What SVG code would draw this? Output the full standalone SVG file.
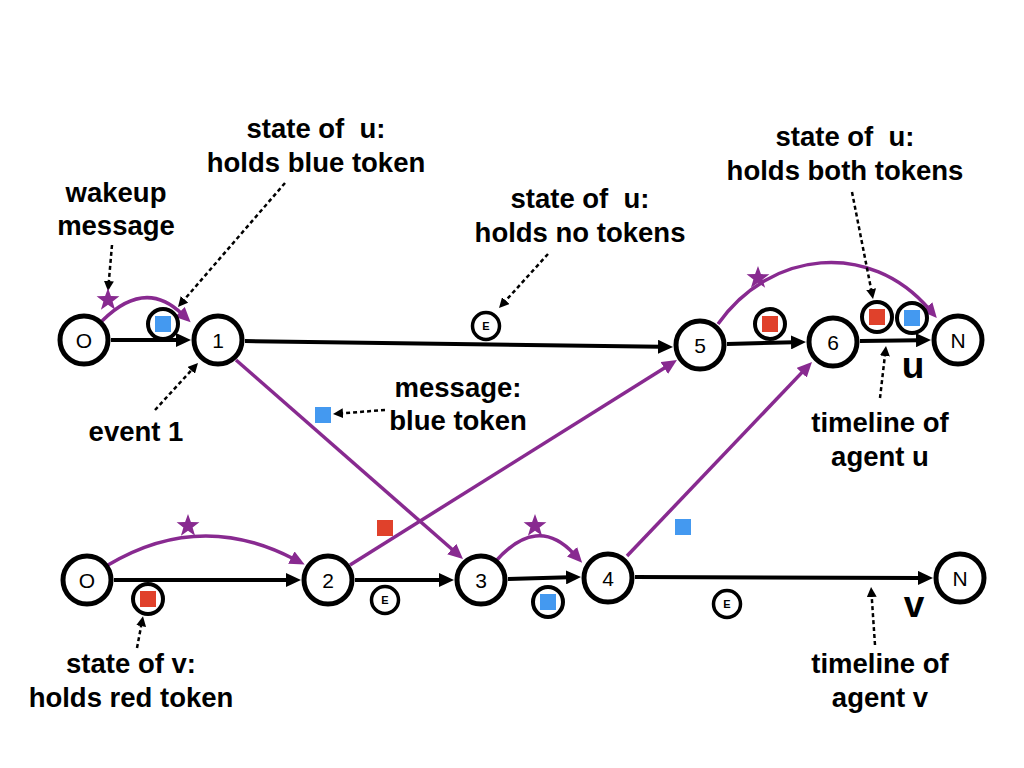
<svg xmlns="http://www.w3.org/2000/svg" width="1024" height="768" viewBox="0 0 1024 768">
<style>
.node{fill:#fff;stroke:#000;stroke-width:5}
.nlabel{font-family:"Liberation Sans",Arial,Helvetica,sans-serif;font-size:21px;text-anchor:middle;fill:#000}
.tok{fill:#fff;stroke:#000;stroke-width:4}
.ecirc{fill:#fff;stroke:#000;stroke-width:3.5}
.elabel{font-family:"Liberation Sans",Arial,Helvetica,sans-serif;font-size:11px;font-weight:bold;text-anchor:middle;fill:#000}
.ann{font-family:"Liberation Sans",Arial,Helvetica,sans-serif;font-size:27.5px;font-weight:bold;text-anchor:middle;fill:#000}
.big{font-family:"Liberation Sans",Arial,Helvetica,sans-serif;font-size:37px;font-weight:bold;text-anchor:middle;fill:#000}
.blk{fill:none;stroke:#000;stroke-width:4;marker-end:url(#ab)}
.pur{fill:none;stroke:#882a90;stroke-width:3.5;marker-end:url(#ap)}
.dot{fill:none;stroke:#000;stroke-width:2.5;stroke-dasharray:4 3;marker-end:url(#ad)}
.blue{fill:#4499f0}
.red{fill:#e0412b}
.star{fill:#882a90}
</style>
<defs>
<marker id="ab" markerUnits="userSpaceOnUse" markerWidth="16" markerHeight="14" refX="3" refY="7" orient="auto"><path d="M0,0 L15,7 L0,14 z" fill="#000"/></marker>
<marker id="ap" markerUnits="userSpaceOnUse" markerWidth="16" markerHeight="14" refX="3" refY="7" orient="auto"><path d="M0,0 L15,7 L0,14 z" fill="#882a90"/></marker>
<marker id="ad" markerUnits="userSpaceOnUse" markerWidth="11" markerHeight="10" refX="2" refY="5" orient="auto"><path d="M0,0 L10,5 L0,10 z" fill="#000"/></marker>
<polygon id="st" points="0,-12 2.9,-3.9 11.4,-3.7 4.6,1.5 7.1,9.7 0,4.8 -7.1,9.7 -4.6,1.5 -11.4,-3.7 -2.9,-3.9"/>
</defs>
<rect width="1024" height="768" fill="#fff"/>

<g id="connectors">
<!-- timeline u -->
<path class="blk" d="M111,340 L179,340"/>
<path class="blk" d="M245,341 L661,346.8"/>
<path class="blk" d="M727,344 L794,342.3"/>
<path class="blk" d="M860,341 L919,340.2"/>
<!-- timeline v -->
<path class="blk" d="M114,580 L289,580"/>
<path class="blk" d="M355,580 L442,580"/>
<path class="blk" d="M508,579 L569,577.3"/>
<path class="blk" d="M635,577 L921,577.9"/>
<!-- messages -->
<path class="pur" d="M236,360 L454,551"/>
<path class="pur" d="M350,565 L666.8,366.4"/>
<path class="pur" d="M627,556 L803.7,370.6"/>
<path class="pur" d="M102,321 Q145,278 182,314"/>
<path class="pur" d="M108,565 Q200,510 294,559"/>
<path class="pur" d="M495,562 Q537,514 574,554"/>
<path class="pur" d="M718,324 C770,250 870,240 929,309"/>
<!-- annotation pointers -->
<path class="dot" d="M112,245 L108.7,283"/>
<path class="dot" d="M285,183 L183.2,300.9"/>
<path class="dot" d="M155,410 L192.6,368.9"/>
<path class="dot" d="M548,254 L504.4,302.1"/>
<path class="dot" d="M852,192 L871.5,291.1"/>
<path class="dot" d="M880,398 L885.1,354"/>
<path class="dot" d="M385,410 L341,413.4"/>
<path class="dot" d="M137,648 L141.5,624.1"/>
<path class="dot" d="M875,645 L871.6,595"/>
</g>

<g id="stars">
<use href="#st" class="star" x="108" y="300"/>
<use href="#st" class="star" x="188" y="526"/>
<use href="#st" class="star" x="535" y="526"/>
<use href="#st" class="star" x="758" y="278"/>
</g>

<g id="message-tokens">
<rect class="blue" x="315" y="407" width="16" height="16"/>
<rect class="red" x="377" y="520" width="16" height="16"/>
<rect class="blue" x="675" y="519" width="16" height="16"/>
</g>

<g id="node-u-O"><circle class="node" cx="84" cy="340" r="24"/><text class="nlabel" x="84" y="348">O</text></g>
<g id="node-u-1"><circle class="node" cx="218" cy="340" r="24"/><text class="nlabel" x="218" y="348">1</text></g>
<g id="node-u-5"><circle class="node" cx="700" cy="345" r="24"/><text class="nlabel" x="700" y="353">5</text></g>
<g id="node-u-6"><circle class="node" cx="833" cy="342" r="24"/><text class="nlabel" x="833" y="350">6</text></g>
<g id="node-u-N"><circle class="node" cx="958" cy="340" r="24"/><text class="nlabel" x="958" y="348">N</text></g>

<g id="node-v-O"><circle class="node" cx="87" cy="580" r="24"/><text class="nlabel" x="87" y="588">O</text></g>
<g id="node-v-2"><circle class="node" cx="328" cy="580" r="24"/><text class="nlabel" x="328" y="588">2</text></g>
<g id="node-v-3"><circle class="node" cx="481" cy="580" r="24"/><text class="nlabel" x="481" y="588">3</text></g>
<g id="node-v-4"><circle class="node" cx="608" cy="578" r="24"/><text class="nlabel" x="608" y="586">4</text></g>
<g id="node-v-N"><circle class="node" cx="960" cy="578" r="24"/><text class="nlabel" x="960" y="586">N</text></g>

<g id="state-u-blue"><circle class="tok" cx="163" cy="324" r="15"/><rect class="blue" x="155" y="316" width="16" height="16"/></g>
<g id="state-u-E"><circle class="ecirc" cx="486" cy="326" r="13.5"/><text class="elabel" x="486" y="330">E</text></g>
<g id="state-u-red"><circle class="tok" cx="770" cy="324" r="15"/><rect class="red" x="762" y="316" width="16" height="16"/></g>
<g id="state-u-both-red"><circle class="tok" cx="877" cy="317" r="15"/><rect class="red" x="869" y="309" width="16" height="16"/></g>
<g id="state-u-both-blue"><circle class="tok" cx="912" cy="318" r="15"/><rect class="blue" x="904" y="310" width="16" height="16"/></g>
<g id="state-v-red"><circle class="tok" cx="148" cy="599" r="15"/><rect class="red" x="140" y="591" width="16" height="16"/></g>
<g id="state-v-E1"><circle class="ecirc" cx="385" cy="600" r="13.5"/><text class="elabel" x="385" y="604">E</text></g>
<g id="state-v-blue"><circle class="tok" cx="548" cy="602" r="15"/><rect class="blue" x="540" y="594" width="16" height="16"/></g>
<g id="state-v-E2"><circle class="ecirc" cx="727" cy="604" r="13.5"/><text class="elabel" x="727" y="608">E</text></g>

<g id="labels">
<text class="ann" xml:space="preserve" x="316" y="138">state of  u:</text>
<text class="ann" x="316" y="172">holds blue token</text>
<text class="ann" x="116" y="202">wakeup</text>
<text class="ann" x="116" y="235">message</text>
<text class="ann" xml:space="preserve" x="580" y="208">state of  u:</text>
<text class="ann" x="580" y="242">holds no tokens</text>
<text class="ann" xml:space="preserve" x="845" y="146">state of  u:</text>
<text class="ann" x="845" y="180">holds both tokens</text>
<text class="ann" x="136" y="441">event 1</text>
<text class="ann" x="458" y="397">message:</text>
<text class="ann" x="458" y="430">blue token</text>
<text class="ann" x="880" y="432">timeline of</text>
<text class="ann" x="880" y="466">agent u</text>
<text class="ann" x="131" y="673">state of v:</text>
<text class="ann" x="131" y="707">holds red token</text>
<text class="ann" x="880" y="673">timeline of</text>
<text class="ann" x="880" y="707">agent v</text>
<text class="big" x="913" y="378">u</text>
<text class="big" x="914" y="617">v</text>
</g>
</svg>
